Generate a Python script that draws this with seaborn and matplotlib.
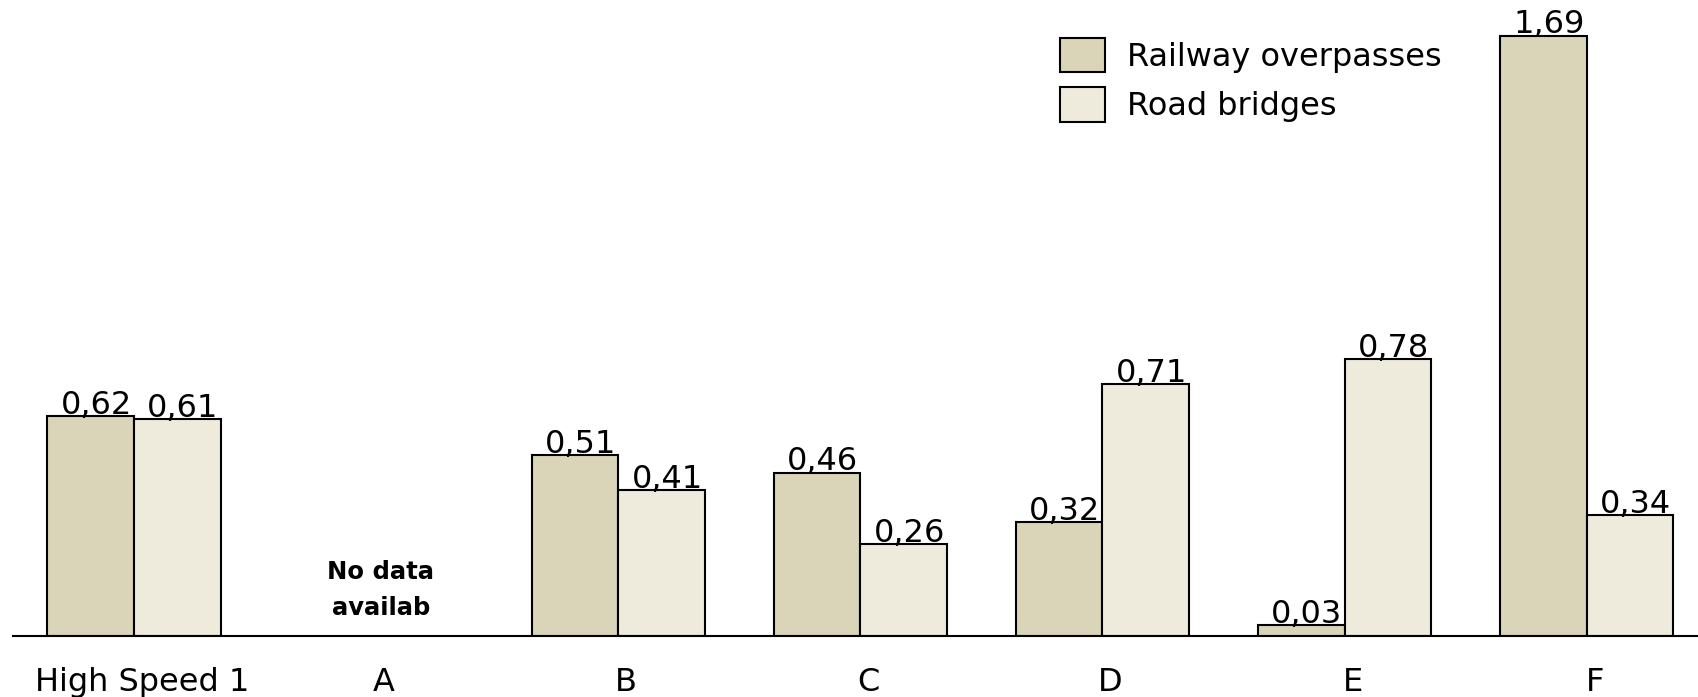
import numpy as np
import pandas as pd
import matplotlib
matplotlib.use("Agg")
import matplotlib.pyplot as plt
import matplotlib.transforms as mtransforms
import seaborn as sns

categories = ["High Speed 1", "A", "B", "C", "D", "E", "F"]
railway = [0.62, np.nan, 0.51, 0.46, 0.32, 0.03, 1.69]
road = [0.61, np.nan, 0.41, 0.26, 0.71, 0.78, 0.34]
series = ["Railway overpasses", "Road bridges"]
colors = ["#DAD5B8", "#EEEBDC"]

df = pd.DataFrame({
    "cat": categories * 2,
    "val": railway + road,
    "series": [series[0]] * len(categories) + [series[1]] * len(categories),
})

sns.set_theme(style="white")
plt.rcParams["font.family"] = ["DejaVu Sans"]

fig = plt.figure(figsize=(16.98, 6.97), dpi=100)
ax = fig.add_axes([13 / 1698, 61 / 697, 1 - 13 / 1698, 1 - 61 / 697])

sns.barplot(data=df, x="cat", y="val", hue="series", order=categories,
            hue_order=series, palette=colors, edgecolor="black", linewidth=1.5,
            width=0.715, errorbar=None, ax=ax, saturation=1)

ax.set_xlim(-0.5, 6.46)
ax.set_ylim(0, 1.79)

for cont in ax.containers:
    for patch in cont:
        h = patch.get_height()
        if np.isnan(h) or h == 0:
            continue
        x = patch.get_x() + patch.get_width() / 2
        ax.annotate(f"{h:.2f}".replace(".", ","), xy=(x, h), xytext=(4, 1.5),
                    textcoords="offset points", ha="center", va="baseline",
                    fontsize=23, color="black")

ax.text(1.02, 0.13, "No data\navailab", ha="center", va="center",
        fontsize=17.5, fontweight="bold", linespacing=1.6, color="black")

for s in ["top", "right", "left"]:
    ax.spines[s].set_visible(False)
ax.spines["bottom"].set_color("black")
ax.spines["bottom"].set_linewidth(1.5)
ax.set_yticks([])
ax.set_xlabel("")
ax.set_ylabel("")
ax.tick_params(axis="x", length=0, pad=22, labelsize=23, colors="black")
shift = mtransforms.ScaledTranslation(8 / 100, 0, fig.dpi_scale_trans)
for lab in ax.get_xticklabels():
    lab.set_transform(lab.get_transform() + shift)

fs = 23
fpx = fs * 100 / 72
leg = ax.legend(loc="upper left", bbox_to_anchor=(1060 / 1698, 1 - 38 / 697),
                bbox_transform=fig.transFigure, frameon=False, fontsize=fs,
                handlelength=45 / fpx, handleheight=41 / fpx,
                handletextpad=22 / fpx, labelspacing=0.45, borderpad=0,
                borderaxespad=0)
for t in leg.get_texts():
    t.set_color("black")

fig.savefig("out.png", dpi=100)
